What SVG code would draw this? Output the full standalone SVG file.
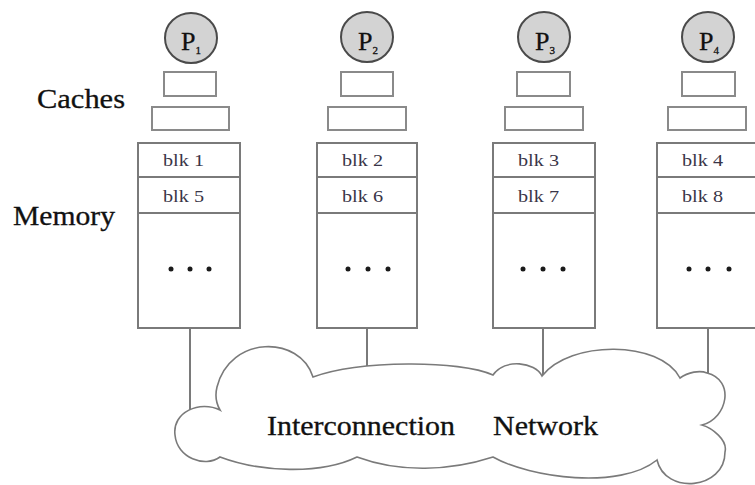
<svg xmlns="http://www.w3.org/2000/svg" width="755" height="485" viewBox="0 0 755 485">
  <style>
    .proc { fill: #d3d3d3; stroke: #4a4a4a; stroke-width: 2; }
    .box { fill: #ffffff; stroke: #8a8a8a; stroke-width: 2; }
    .mem { fill: #ffffff; stroke: #7a7a7a; stroke-width: 2; }
    .wire { fill: none; stroke: #7a7a7a; stroke-width: 2; }
    .cloud { fill: #ffffff; stroke: #7a7a7a; stroke-width: 1.6; }
    .label { font-family: "Liberation Serif", "Times New Roman", serif; fill: #111111; stroke: #111111; stroke-width: 0.3; }
    .big { font-size: 27px; }
    .blk { font-size: 17px; fill: #3a3548; stroke: none; }
    .p { font-size: 26px; }
    .sub { font-size: 11px; }
    .dot { fill: #1a1a1a; }
  </style>

  <!-- side labels -->
  <text class="label big" x="37" y="108" textLength="88" lengthAdjust="spacingAndGlyphs">Caches</text>
  <text class="label big" x="13" y="225" textLength="102" lengthAdjust="spacingAndGlyphs">Memory</text>

  <!-- connectors from memory modules to the network -->
  <g id="connectors">
    <line class="wire" x1="190" y1="328" x2="190" y2="411"/>
    <line class="wire" x1="367" y1="328" x2="367" y2="366"/>
    <line class="wire" x1="543" y1="328" x2="543" y2="376"/>
    <line class="wire" x1="708" y1="328" x2="708" y2="374"/>
  </g>

  <!-- interconnection network cloud -->
  <g id="network">
    <path class="cloud" d="M 220 410
      C 200 400, 172 412, 175 435
      C 177 458, 205 468, 220 457
      C 260 472, 320 475, 357 457
      C 400 473, 450 471, 493 457
      C 530 478, 620 490, 657 460
      C 665 495, 725 490, 725 452
      C 728 440, 712 428, 702 425
      C 728 418, 735 380, 707 373
      C 700 370, 688 372, 680 378
      C 660 340, 570 340, 542 376
      C 535 362, 505 358, 493 375
      C 460 360, 360 360, 313 377
      C 300 335, 230 335, 217 387
      C 215 395, 216 403, 220 410 Z"/>
    <text class="label big" x="267" y="435" textLength="188" lengthAdjust="spacingAndGlyphs">Interconnection</text>
    <text class="label big" x="493" y="435" textLength="105" lengthAdjust="spacingAndGlyphs">Network</text>
  </g>

  <!-- node 1 -->
  <g id="node1">
    <ellipse class="proc" cx="191" cy="38" rx="26" ry="25"/>
    <text class="label p" x="181" y="50">P<tspan class="sub" dy="4">1</tspan></text>
    <rect class="box" x="164" y="72" width="52" height="24"/>
    <rect class="box" x="152" y="107" width="77" height="23"/>
    <rect class="mem" x="138" y="143" width="102" height="185"/>
    <line class="mem" x1="138" y1="177" x2="240" y2="177"/>
    <line class="mem" x1="138" y1="213" x2="240" y2="213"/>
    <text class="label blk" x="163" y="166" textLength="41" lengthAdjust="spacingAndGlyphs">blk 1</text>
    <text class="label blk" x="163" y="202" textLength="41" lengthAdjust="spacingAndGlyphs">blk 5</text>
    <circle class="dot" cx="171" cy="269" r="2.5"/>
    <circle class="dot" cx="190" cy="269" r="2.5"/>
    <circle class="dot" cx="209" cy="269" r="2.5"/>
  </g>

  <!-- node 2 -->
  <g id="node2">
    <ellipse class="proc" cx="367" cy="37" rx="26" ry="25"/>
    <text class="label p" x="358" y="50">P<tspan class="sub" dy="4">2</tspan></text>
    <rect class="box" x="341" y="72" width="52" height="24"/>
    <rect class="box" x="328" y="107" width="78" height="23"/>
    <rect class="mem" x="317" y="143" width="100" height="185"/>
    <line class="mem" x1="317" y1="177" x2="417" y2="177"/>
    <line class="mem" x1="317" y1="213" x2="417" y2="213"/>
    <text class="label blk" x="342" y="166" textLength="41" lengthAdjust="spacingAndGlyphs">blk 2</text>
    <text class="label blk" x="342" y="202" textLength="41" lengthAdjust="spacingAndGlyphs">blk 6</text>
    <circle class="dot" cx="348" cy="269" r="2.5"/>
    <circle class="dot" cx="368" cy="269" r="2.5"/>
    <circle class="dot" cx="388" cy="269" r="2.5"/>
  </g>

  <!-- node 3 -->
  <g id="node3">
    <ellipse class="proc" cx="544" cy="37" rx="26" ry="25"/>
    <text class="label p" x="535" y="50">P<tspan class="sub" dy="4">3</tspan></text>
    <rect class="box" x="517" y="72" width="53" height="24"/>
    <rect class="box" x="505" y="107" width="78" height="23"/>
    <rect class="mem" x="493" y="143" width="102" height="185"/>
    <line class="mem" x1="493" y1="177" x2="595" y2="177"/>
    <line class="mem" x1="493" y1="213" x2="595" y2="213"/>
    <text class="label blk" x="518" y="166" textLength="41" lengthAdjust="spacingAndGlyphs">blk 3</text>
    <text class="label blk" x="518" y="202" textLength="41" lengthAdjust="spacingAndGlyphs">blk 7</text>
    <circle class="dot" cx="523" cy="269" r="2.5"/>
    <circle class="dot" cx="543" cy="269" r="2.5"/>
    <circle class="dot" cx="563" cy="269" r="2.5"/>
  </g>

  <!-- node 4 -->
  <g id="node4">
    <ellipse class="proc" cx="708" cy="37" rx="26" ry="25"/>
    <text class="label p" x="699" y="50">P<tspan class="sub" dy="4">4</tspan></text>
    <rect class="box" x="682" y="72" width="53" height="24"/>
    <rect class="box" x="668" y="107" width="78" height="23"/>
    <rect class="mem" x="657" y="143" width="102" height="185"/>
    <line class="mem" x1="657" y1="177" x2="759" y2="177"/>
    <line class="mem" x1="657" y1="213" x2="759" y2="213"/>
    <text class="label blk" x="682" y="166" textLength="41" lengthAdjust="spacingAndGlyphs">blk 4</text>
    <text class="label blk" x="682" y="202" textLength="41" lengthAdjust="spacingAndGlyphs">blk 8</text>
    <circle class="dot" cx="689" cy="269" r="2.5"/>
    <circle class="dot" cx="708" cy="269" r="2.5"/>
    <circle class="dot" cx="729" cy="269" r="2.5"/>
  </g>
</svg>
